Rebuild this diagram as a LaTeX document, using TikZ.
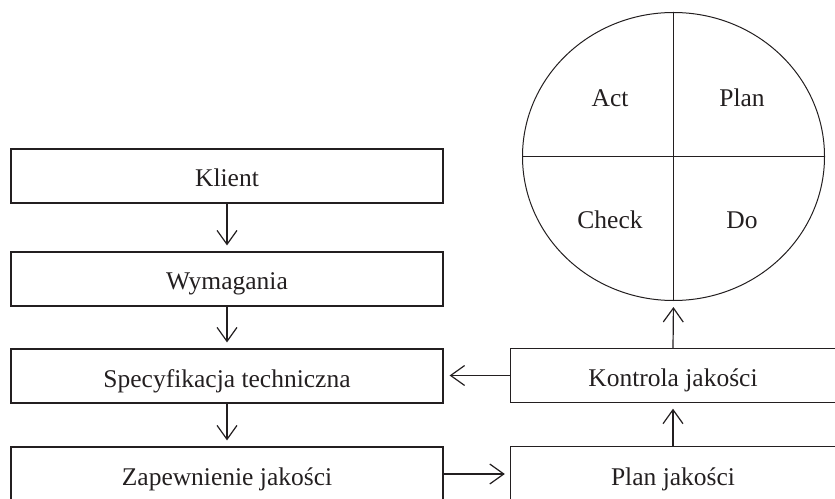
\documentclass[tikz,border=0pt]{standalone}
\usepackage{fontspec}
\setmainfont{Liberation Serif}
\usetikzlibrary{arrows.meta,shapes.geometric}
\definecolor{ink}{HTML}{231F20}
\begin{document}
\begin{tikzpicture}[x=1bp,y=-1bp,
  every node/.style={font=\fontsize{25.5bp}{30bp}\selectfont, text=ink},
  stage/.style={draw=ink, line width=1.2bp, minimum width=432bp, minimum height=54bp,
    inner sep=0pt, text height=22bp, text depth=0pt},
  openstage/.style={minimum width=324bp, minimum height=54bp,
    inner sep=0pt, text height=22bp, text depth=0pt},
  edge line/.style={draw=ink, line width=1.2bp},
  flow/.style={draw=ink, line width=1.2bp, shorten >=6bp,
    -{Straight Barb[length=14bp,width=20bp,line width=1.2bp]}},
  quarter/.style={anchor=base}
]
\useasboundingbox (0,0) rectangle (835,499);

% left column
\node[stage] (klient) at (227,176) {Klient};
\node[stage] (wym)    at (227,279) {Wymagania};
\node[stage] (spec)   at (227,376) {Specyfikacja techniczna};
\node[stage] (zap)    at (227,474) {Zapewnienie jakości};

% right column, boxes run off the right edge
\node[openstage] (kontrola) at (673,375.5) {Kontrola jakości};
\node[openstage] (plan)     at (673,474)   {Plan jakości};
\draw[edge line] ([xshift=20bp]kontrola.north east) -- (kontrola.north west)
  -- (kontrola.south west) -- ([xshift=20bp]kontrola.south east);
\draw[edge line] ([xshift=20bp]plan.north east) -- (plan.north west)
  -- ([yshift=-10bp]plan.south west);

% PDCA wheel
\node[draw=ink, line width=1bp, ellipse, minimum width=302bp, minimum height=288bp,
  inner sep=0pt] (pdca) at (673.5,156.5) {};
\draw[ink, line width=1bp] (pdca.north) -- (pdca.south);
\draw[ink, line width=1bp] (pdca.west) -- (pdca.east);
\node[quarter] (act)   at (610,106.5) {Act};
\node[quarter] (plq)   at (742,106.5) {Plan};
\node[quarter] (check) at (610,228.5) {Check};
\node[quarter] (do)    at (742,228.5) {Do};

% connectors
\draw[flow] (klient) -- (wym);
\draw[flow] (wym) -- (spec);
\draw[flow] (spec) -- (zap);
\draw[flow] (kontrola.west) -- (spec.east |- kontrola.west);
\draw[flow] (zap.east) -- (plan.west);
\draw[flow] (plan.north) -- (kontrola.south);
\draw[flow] (kontrola.north) -- (pdca.south);
\end{tikzpicture}
\end{document}
